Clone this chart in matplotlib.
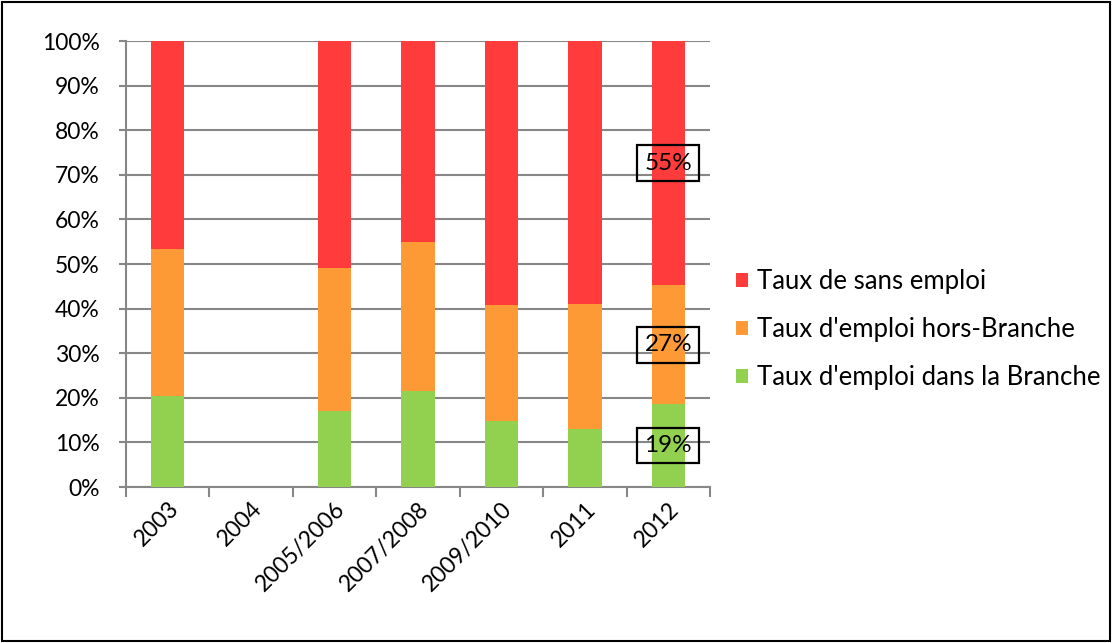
import matplotlib.pyplot as plt
import numpy as np
from matplotlib.ticker import PercentFormatter, FixedLocator

plt.rcParams['font.family'] = ['Lato', 'DejaVu Sans']

# Données (parts en %)
annees = ['2003', '2004', '2005/2006', '2007/2008', '2009/2010', '2011', '2012']
dans_branche = [20.3, 0, 17.1, 21.5, 14.7, 13.1, 18.6]
hors_branche = [33.0, 0, 32.1, 33.4, 26.1, 27.9, 26.6]
sans_emploi = [46.7, 0, 50.8, 45.1, 59.2, 59.0, 54.8]
etiquettes_2012 = ['19%', '27%', '55%']

vert = '#92d050'
orange = '#fd9a35'
rouge = '#ff3b3b'

fig = plt.figure(figsize=(11.12, 6.43), dpi=100)
ax = fig.add_axes([0.1133, 0.2426, 0.5252, 0.6936])

x = np.arange(len(annees))
v = np.array(dans_branche) / 100
o = np.array(hors_branche) / 100
r = np.array(sans_emploi) / 100

b1 = ax.bar(x, v, width=0.4, color=vert, label="Taux d'emploi dans la Branche", zorder=3)
b2 = ax.bar(x, o, width=0.4, bottom=v, color=orange, label="Taux d'emploi hors-Branche", zorder=3)
b3 = ax.bar(x, r, width=0.4, bottom=v + o, color=rouge, label='Taux de sans emploi', zorder=3)

# Étiquettes encadrées pour 2012
i = len(annees) - 1
centres = [v[i] / 2, v[i] + o[i] / 2, v[i] + o[i] + r[i] / 2]
for c, txt in zip(centres, etiquettes_2012):
    ax.text(x[i], c, txt, ha='center', va='center', fontsize=17.5, zorder=5,
            bbox=dict(boxstyle='square,pad=0.3', fc='none', ec='black', lw=1.6))

ax.set_xlim(-0.5, len(annees) - 0.5)
ax.set_ylim(0, 1)
ax.yaxis.set_major_locator(FixedLocator(np.arange(0, 1.01, 0.1)))
ax.yaxis.set_major_formatter(PercentFormatter(1.0, decimals=0))
ax.grid(axis='y', color='#878787', lw=1.5, zorder=0)

ax.set_xticks(x)
ax.set_xticklabels(annees, rotation=45, ha='right', rotation_mode='anchor')
ax.set_xticks(np.arange(-0.5, len(annees)), minor=True)
ax.tick_params(axis='x', which='major', length=0, pad=8, labelsize=16.5)
ax.tick_params(axis='x', which='minor', length=7, color='#878787', width=1.5)
ax.tick_params(axis='y', length=5, color='#878787', width=1.5, labelsize=16.5, pad=14)

for s in ['top', 'right']:
    ax.spines[s].set_visible(False)
for s in ['left', 'bottom']:
    ax.spines[s].set_color('#878787')
    ax.spines[s].set_linewidth(1.5)

handles = [b3, b2, b1]
fig.legend(handles, [h.get_label() for h in handles], loc='center left',
           bbox_to_anchor=(0.662, 0.487), frameon=False, fontsize=18.5,
           handlelength=0.45, handleheight=0.45, handletextpad=0.35, labelspacing=0.9,
           borderpad=0, borderaxespad=0)

# Cadre du graphique
fig.patches.append(plt.Rectangle((0.002, 0.003), 0.996, 0.994, transform=fig.transFigure,
                                 fill=False, ec='black', lw=1.5))

fig.savefig('out.png', dpi=100)
